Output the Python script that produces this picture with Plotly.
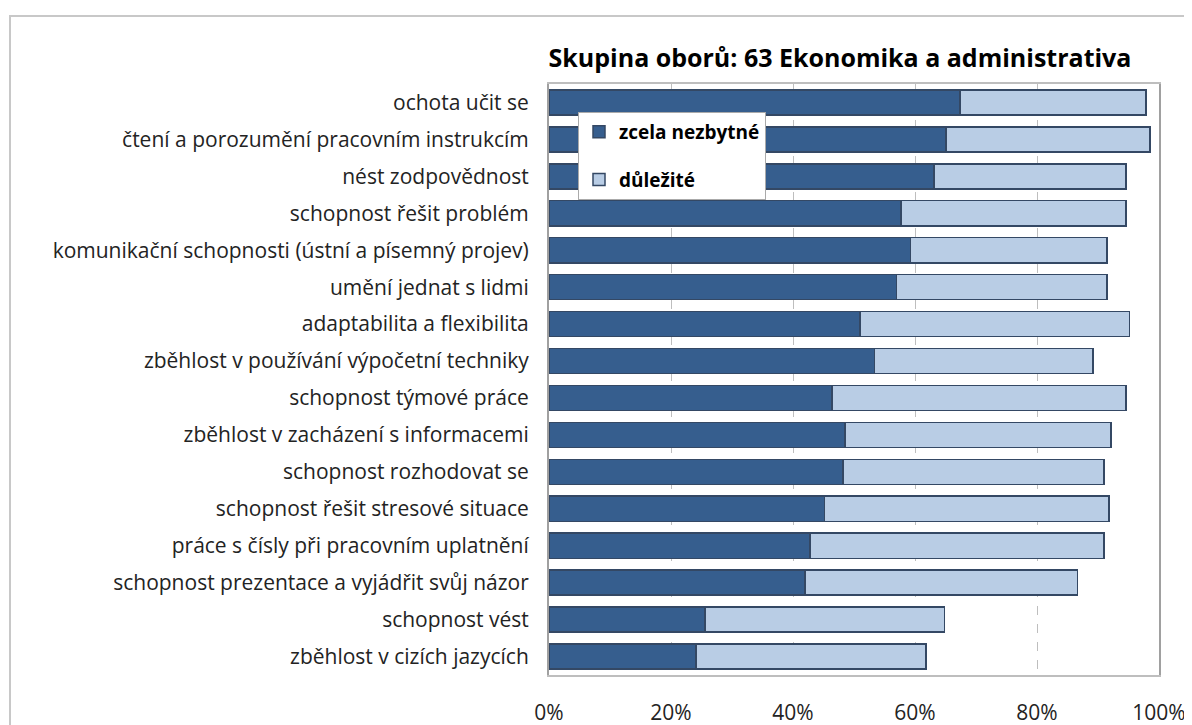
"""Stacked horizontal bar chart: required competences, group 63."""

import plotly.graph_objects as go

CATEGORIES = [
    "ochota učit se",
    "čtení a porozumění pracovním instrukcím",
    "nést zodpovědnost",
    "schopnost řešit problém",
    "komunikační schopnosti (ústní a písemný projev)",
    "umění jednat s lidmi",
    "adaptabilita a flexibilita",
    "zběhlost v používání výpočetní techniky",
    "schopnost týmové práce",
    "zběhlost v zacházení s informacemi",
    "schopnost rozhodovat se",
    "schopnost řešit stresové situace",
    "práce s čísly při pracovním uplatnění",
    "schopnost prezentace a vyjádřit svůj názor",
    "schopnost vést",
    "zběhlost v cizích jazycích",
]

# share of respondents (%)
ZCELA_NEZBYTNE = [67.4, 65.1, 63.1, 57.7, 59.3, 57.0, 51.0, 53.4,
                  46.4, 48.5, 48.2, 45.2, 42.8, 42.0, 25.6, 24.1]
DULEZITE = [30.5, 33.4, 31.5, 36.9, 32.2, 34.5, 44.2, 35.8,
            48.2, 43.6, 42.8, 46.6, 48.2, 44.6, 39.2, 37.7]

X_TICKS = [0, 20, 40, 60, 80, 100]
X_TICK_TEXT = [f"{v}%" for v in X_TICKS]

DARK = "rgb(54, 94, 142)"
LIGHT = "rgb(185, 205, 229)"
EDGE = "rgb(52, 72, 100)"
TEXT = "rgb(35, 35, 35)"

# the page body has an 8px margin, so positions are given relative to that
W, H = 1192, 725
M = {"l": 541, "r": 41, "t": 76, "b": 58}
PW = W - M["l"] - M["r"]
PH = H - M["t"] - M["b"]

fig = go.Figure()
fig.add_trace(go.Bar(
    y=CATEGORIES, x=ZCELA_NEZBYTNE, orientation="h", name="zcela nezbytné",
    marker={"color": DARK, "line": {"color": EDGE, "width": 1.5}},
    legendgroup="a",
))
fig.add_trace(go.Bar(
    y=CATEGORIES, x=DULEZITE, orientation="h", name="důležité",
    marker={"color": LIGHT, "line": {"color": EDGE, "width": 1.5}},
    legendgroup="b",
))

# outer chart frame (cut off by the picture at right and bottom)
fig.add_shape(
    type="rect", xref="paper", yref="paper",
    x0=(2 - M["l"]) / PW, x1=(W + 20 - M["l"]) / PW,
    y0=-(H + 20 - M["t"] - PH) / PH, y1=1 + (M["t"] - 8) / PH,
    line={"color": "rgb(200, 200, 200)", "width": 2}, layer="below",
)

fig.update_layout(
    width=W, height=H, margin=M,
    barmode="stack", bargap=0.32,
    paper_bgcolor="white", plot_bgcolor="white",
    font={"family": "Open Sans, Noto Sans, sans-serif", "color": TEXT, "size": 21},
    title={
        "text": "<b>Skupina oborů: 63 Ekonomika a administrativa</b>",
        "x": 832 / W, "xanchor": "center", "y": 1 - 50 / H, "yanchor": "middle",
        "font": {"size": 25, "color": "black"},
    },
    xaxis={
        "range": [0, 100], "tickvals": X_TICKS, "ticktext": X_TICK_TEXT,
        "showgrid": True, "gridcolor": "rgb(190, 190, 190)", "griddash": "dash",
        "gridwidth": 1, "zeroline": False,
        "showline": True, "linecolor": "rgb(190, 190, 190)", "linewidth": 2,
        "mirror": True, "ticks": "", "ticklabelstandoff": 18,
        "tickfont": {"size": 21}, "automargin": False,
    },
    yaxis={
        "autorange": "reversed", "showgrid": False,
        "showline": True, "linecolor": "rgb(160, 160, 160)", "linewidth": 2,
        "mirror": True, "ticks": "", "ticklabelstandoff": 14,
    },
    legend={
        "x": (570 - M["l"]) / PW, "y": 1 - (104 - M["t"]) / PH,
        "xanchor": "left", "yanchor": "top",
        "bgcolor": "white", "bordercolor": "rgb(170, 170, 170)", "borderwidth": 1,
        "font": {"size": 19, "color": "black", "weight": "bold"},
        "traceorder": "grouped", "tracegroupgap": 20,
        "itemwidth": 30,
    },
)

fig.write_html("out.html")
